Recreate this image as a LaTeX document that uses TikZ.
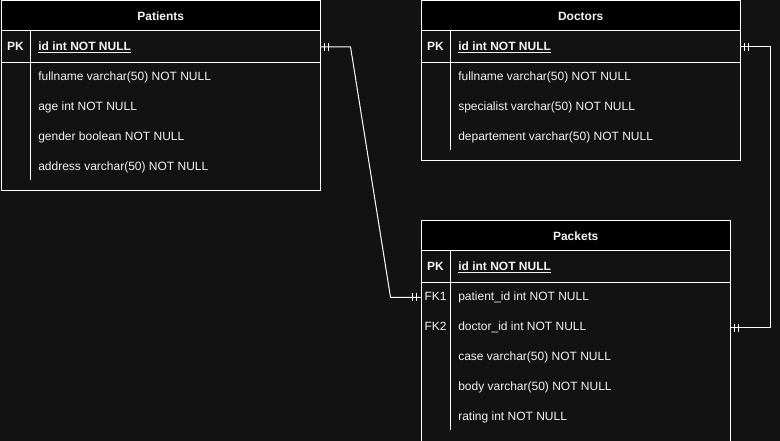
\documentclass[tikz,border=0pt]{standalone}
\usepackage{fontspec}
\setmainfont{Liberation Sans}
\usetikzlibrary{calc}
\definecolor{bg}{HTML}{121212}
\definecolor{txt}{HTML}{F4F4F4}
\begin{document}
\begin{tikzpicture}[x=0.75pt,y=-0.75pt,
  line/.style={draw=white, line width=0.75pt},
  framebox/.style={line, fill=bg, inner sep=0pt, anchor=north west},
  hdrbox/.style={line, fill=black, inner sep=0pt, anchor=north west, minimum height=22.5pt, text=txt, font=\fontsize{9pt}{11pt}\selectfont\bfseries},
  rowbox/.style={inner sep=0pt, anchor=north west, minimum height=22.5pt},
  fld/.style={anchor=base west, yshift=-3.9pt, inner sep=0pt, text=txt, font=\fontsize{9pt}{11pt}\selectfont},
  fldb/.style={fld, font=\fontsize{9pt}{11pt}\selectfont\bfseries},
  keyb/.style={anchor=base, yshift=-3.9pt, inner sep=0pt, text=txt, font=\fontsize{9pt}{11pt}\selectfont\bfseries},
  keyn/.style={anchor=base, yshift=-3.9pt, inner sep=0pt, text=txt, font=\fontsize{9pt}{11pt}\selectfont},
  conn/.style={draw=white, line width=0.75pt}
]
\useasboundingbox (0,0) rectangle (780,441);
\clip (0,0) rectangle (780,441);
\fill[bg] (0,0) rectangle (780,441);

% ---------- Patients ----------
\node[framebox, minimum width=239.6pt, minimum height=142.1pt] (patients) at (0.5,0.5) {};
\node[hdrbox, minimum width=239.6pt] (pathdr) at (patients.north west) {Patients};
\node[rowbox, minimum width=239.6pt] (patpk) at (pathdr.south west) {};
\draw[line] (patpk.south west) -- (patpk.south east);
\draw[line] (30.5,30) -- (30.5,180);
\node[keyb] (patpkl) at (15.5,45) {PK};
\node[fldb] (patid) at (38,45) {\underline{id int NOT NULL}};
\node[fld] (patf1) at (38,75) {fullname varchar(50) NOT NULL};
\node[fld] (patf2) at (38,105) {age int NOT NULL};
\node[fld] (patf3) at (38,135) {gender boolean NOT NULL};
\node[fld] (patf4) at (38,165) {address varchar(50) NOT NULL};

% ---------- Doctors ----------
\node[framebox, minimum width=239.6pt, minimum height=119.6pt] (doctors) at (420.5,0.5) {};
\node[hdrbox, minimum width=239.6pt] (dochdr) at (doctors.north west) {Doctors};
\node[rowbox, minimum width=239.6pt] (docpk) at (dochdr.south west) {};
\draw[line] (docpk.south west) -- (docpk.south east);
\draw[line] (450.5,30) -- (450.5,150);
\node[keyb] (docpkl) at (435.5,45) {PK};
\node[fldb] (docid) at (458,45) {\underline{id int NOT NULL}};
\node[fld] (docf1) at (458,75) {fullname varchar(50) NOT NULL};
\node[fld] (docf2) at (458,105) {specialist varchar(50) NOT NULL};
\node[fld] (docf3) at (458,135) {departement varchar(50) NOT NULL};

% ---------- Packets ----------
\node[framebox, minimum width=232.1pt, minimum height=172.5pt] (packets) at (420.5,220.5) {};
\node[hdrbox, minimum width=232.1pt] (pakhdr) at (packets.north west) {Packets};
\node[rowbox, minimum width=232.1pt] (pakpk) at (pakhdr.south west) {};
\draw[line] (pakpk.south west) -- (pakpk.south east);
\node[rowbox, minimum width=232.1pt] (pakfk1) at (pakpk.south west) {};
\node[rowbox, minimum width=232.1pt] (pakfk2) at (pakfk1.south west) {};
\draw[line] (450.5,250) -- (450.5,430);
\node[keyb] (pakpkl) at (435.5,265) {PK};
\node[fldb] (pakid) at (458,265) {\underline{id int NOT NULL}};
\node[keyn] (pakfk1l) at (435.5,295) {FK1};
\node[fld] (pakf1) at (458,295) {patient\_id int NOT NULL};
\node[keyn] (pakfk2l) at (435.5,325) {FK2};
\node[fld] (pakf2) at (458,325) {doctor\_id int NOT NULL};
\node[fld] (pakf3) at (458,355) {case varchar(50) NOT NULL};
\node[fld] (pakf4) at (458,385) {body varchar(50) NOT NULL};
\node[fld] (pakf5) at (458,415) {rating int NOT NULL};

% ---------- Connectors ----------
\draw[conn] (patpk.east) -- ++(30,0) -- ($(pakfk1.west)+(-30,0)$) -- (pakfk1.west);
\draw[conn] (docpk.east) -- ++(30,0) |- (pakfk2.east);

% one-and-only-one marks
\draw[conn] ($(patpk.east)+(4,-4)$) -- ++(0,8);
\draw[conn] ($(patpk.east)+(8,-4)$) -- ++(0,8);
\draw[conn] ($(pakfk1.west)+(-4,-4)$) -- ++(0,8);
\draw[conn] ($(pakfk1.west)+(-8,-4)$) -- ++(0,8);
\draw[conn] ($(docpk.east)+(4,-4)$) -- ++(0,8);
\draw[conn] ($(docpk.east)+(8,-4)$) -- ++(0,8);
\draw[conn] ($(pakfk2.east)+(4,-4)$) -- ++(0,8);
\draw[conn] ($(pakfk2.east)+(8,-4)$) -- ++(0,8);
\end{tikzpicture}
\end{document}
